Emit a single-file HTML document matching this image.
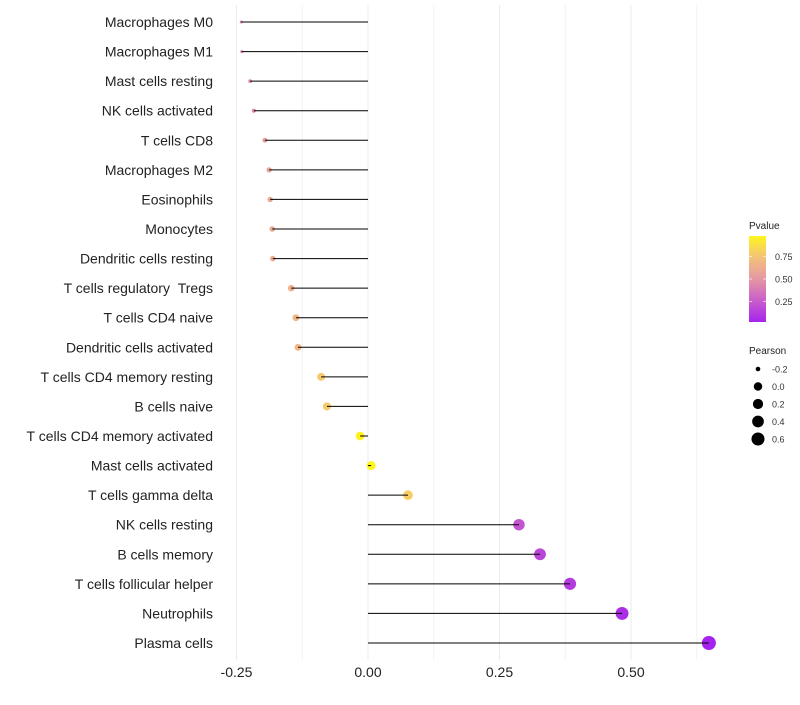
<!DOCTYPE html>
<html><head><meta charset="utf-8"><style>
body{margin:0;background:#fff;}
svg text{font-family:"Liberation Sans",sans-serif;}
</style></head><body>
<svg id="chart" width="800" height="700"></svg>
<script>
const categories=["Macrophages M0","Macrophages M1","Mast cells resting","NK cells activated","T cells CD8","Macrophages M2","Eosinophils","Monocytes","Dendritic cells resting","T cells regulatory\u00a0\u00a0Tregs","T cells CD4 naive","Dendritic cells activated","T cells CD4 memory resting","B cells naive","T cells CD4 memory activated","Mast cells activated","T cells gamma delta","NK cells resting","B cells memory","T cells follicular helper","Neutrophils","Plasma cells"];
const pearson=[-0.241,-0.240,-0.224,-0.217,-0.196,-0.188,-0.186,-0.182,-0.181,-0.146,-0.137,-0.133,-0.089,-0.078,-0.015,0.006,0.076,0.287,0.327,0.384,0.483,0.648];
const pvalue=[0.40,0.40,0.45,0.45,0.55,0.58,0.60,0.60,0.61,0.65,0.68,0.68,0.78,0.78,0.96,0.98,0.80,0.22,0.16,0.12,0.06,0.01];
const xTicks=[-0.25,0,0.25,0.5];
const xTickLabels=["-0.25","0.00","0.25","0.50"];
const majorGrid=[-0.25,0,0.25,0.5];
const minorGrid=[-0.125,0.125,0.375,0.625];
const pTicks=[0.25,0.5,0.75];
const sizeTicks=[-0.2,0,0.2,0.4,0.6];

const NS="http://www.w3.org/2000/svg";
const svg=document.getElementById('chart');
function mk(t,a,p){const e=document.createElementNS(NS,t);for(const k in a)e.setAttribute(k,a[k]);(p||svg).appendChild(e);return e;}
const xs=v=>368+v*526;
const ys=i=>22+i*(621/21);
function rs(v){let a=v>=-0.089?20+45*v:16+91*(v+0.089);return Math.sqrt(Math.max(1.7,a));}
const stops=[[0,[162,31,240]],[0.25,[200,92,204]],[0.5,[229,151,164]],[0.75,[245,194,122]],[1,[255,250,20]]];
function col(p){for(let i=1;i<stops.length;i++){if(p<=stops[i][0]){const a=stops[i-1],b=stops[i];const t=(p-a[0])/(b[0]-a[0]);const c=a[1].map((x,j)=>Math.round(x+(b[1][j]-x)*t));return `rgb(${c})`;}}return 'rgb(255,250,20)';}

minorGrid.forEach(v=>{const g=mk('line',{x1:xs(v),x2:xs(v),y1:5,y2:660,stroke:'#f2f2f2','stroke-width':1});

});
majorGrid.forEach(v=>{const g=mk('line',{x1:xs(v),x2:xs(v),y1:5,y2:660,stroke:'#ebebeb','stroke-width':1});

});

xTicks.forEach((v,i)=>{const t=mk('text',{x:xs(v),y:677,'text-anchor':'middle','font-size':14,fill:'#222'});t.textContent=xTickLabels[i];

});

categories.forEach((c,i)=>{
const y=ys(i);
const l=mk('text',{x:213,y:y+5,'text-anchor':'end','font-size':14,fill:'#222'});l.textContent=c;


const d=mk('circle',{cx:xs(pearson[i]),cy:y,r:rs(pearson[i]),fill:col(pvalue[i])});


const s=mk('line',{x1:xs(0),x2:xs(pearson[i]),y1:y,y2:y,stroke:'#000','stroke-width':1});


});

const defs=mk('defs',{});
const lg=mk('linearGradient',{id:'pg',x1:0,y1:1,x2:0,y2:0},defs);
for(let k=0;k<=10;k++){const p=0.02+k*0.096;mk('stop',{offset:k/10,'stop-color':col(p)},lg);}
const pt=mk('text',{x:749,y:229,'font-size':10,fill:'#222'});pt.textContent='Pvalue';


const bar=mk('rect',{x:749,y:236,width:17,height:86,fill:'url(#pg)'});


const py=p=>322-(p-0.02)*(86/0.96);
pTicks.forEach(p=>{const t=mk('text',{x:775,y:py(p)+3.5,'font-size':9,fill:'#333'});t.textContent=p.toFixed(2);


mk('line',{x1:749,x2:752,y1:py(p),y2:py(p),stroke:'#fff','stroke-width':0.6});mk('line',{x1:763,x2:766,y1:py(p),y2:py(p),stroke:'#fff','stroke-width':0.6});});

const st=mk('text',{x:749,y:354,'font-size':10,fill:'#222'});st.textContent='Pearson';


sizeTicks.forEach((v,i)=>{const y=369+i*17.5;
const c=mk('circle',{cx:758,cy:y,r:rs(v)*0.95,fill:'#000'});


const t=mk('text',{x:772,y:y+3.5,'font-size':9,fill:'#333'});t.textContent=v.toFixed(1);

});
</script>
</body></html>
